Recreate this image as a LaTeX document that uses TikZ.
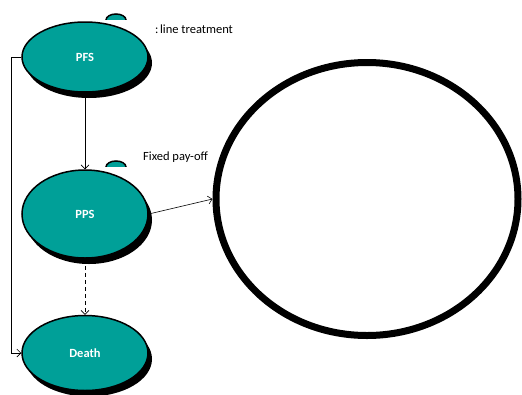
\documentclass[tikz,border=0pt]{standalone}
\usepackage{fontspec}
\setmainfont{Carlito}
\usepackage{tikz}
\usetikzlibrary{shapes.geometric,shadows,arrows.meta}
\definecolor{stateteal}{RGB}{0,160,152}

\begin{document}
\begin{tikzpicture}[x=1pt,y=-1pt,
    state/.style={ellipse, fill=stateteal, draw=black, line width=1.5pt,
      minimum width=126pt, text=white, font=\fontsize{12.5}{12.5}\selectfont\bfseries,
      drop shadow={shadow xshift=4pt, shadow yshift=-6pt, fill=black, opacity=1}},
    note/.style={anchor=west, font=\fontsize{12.5}{13}\selectfont, inner sep=0pt},
    flow/.style={-{Straight Barb[length=4pt,width=8pt]}, line width=0.6pt}]
  \useasboundingbox (0,0) rectangle (522,394);
  % small caps of hidden states
  \begin{scope}
    \clip (100,8) rectangle (132,19);
    \draw[fill=stateteal, line width=1.5pt] (116,20) ellipse[x radius=10, y radius=6];
  \end{scope}
  \begin{scope}
    \clip (100,155) rectangle (132,166);
    \draw[fill=stateteal, line width=1.5pt] (116,167) ellipse[x radius=10, y radius=6];
  \end{scope}
  % states
  \node[state, minimum height=70pt] (pfs) at (85,57) {PFS};
  \node[state, minimum height=88pt] (pps) at (85,214) {PPS};
  \node[state, minimum height=75pt] (death) at (85,353) {Death};
  \node[ellipse, draw=black, line width=7pt, minimum width=302pt,
        minimum height=273pt] (payoff) at (367,199) {};
  \node[note] (ltxt) at (155,29) {:\kern1.5pt line treatment};
  \node[note] (ftxt) at (143,157) {Fixed pay-off};
  % transitions
  \coordinate (lcorner) at (11,57);
  \coordinate (dcorner) at (11,353);
  \draw[line width=0.6pt] (pfs.west) -- (lcorner) -- (dcorner);
  \draw[flow] (dcorner) -- (death.west);
  \draw[flow] (pfs.south) -- (pps.north);
  \draw[flow, dash pattern=on 4pt off 3pt] (pps.south) -- (death.north);
  \draw[flow] (pps.east) -- (payoff.west);
\end{tikzpicture}
\end{document}
